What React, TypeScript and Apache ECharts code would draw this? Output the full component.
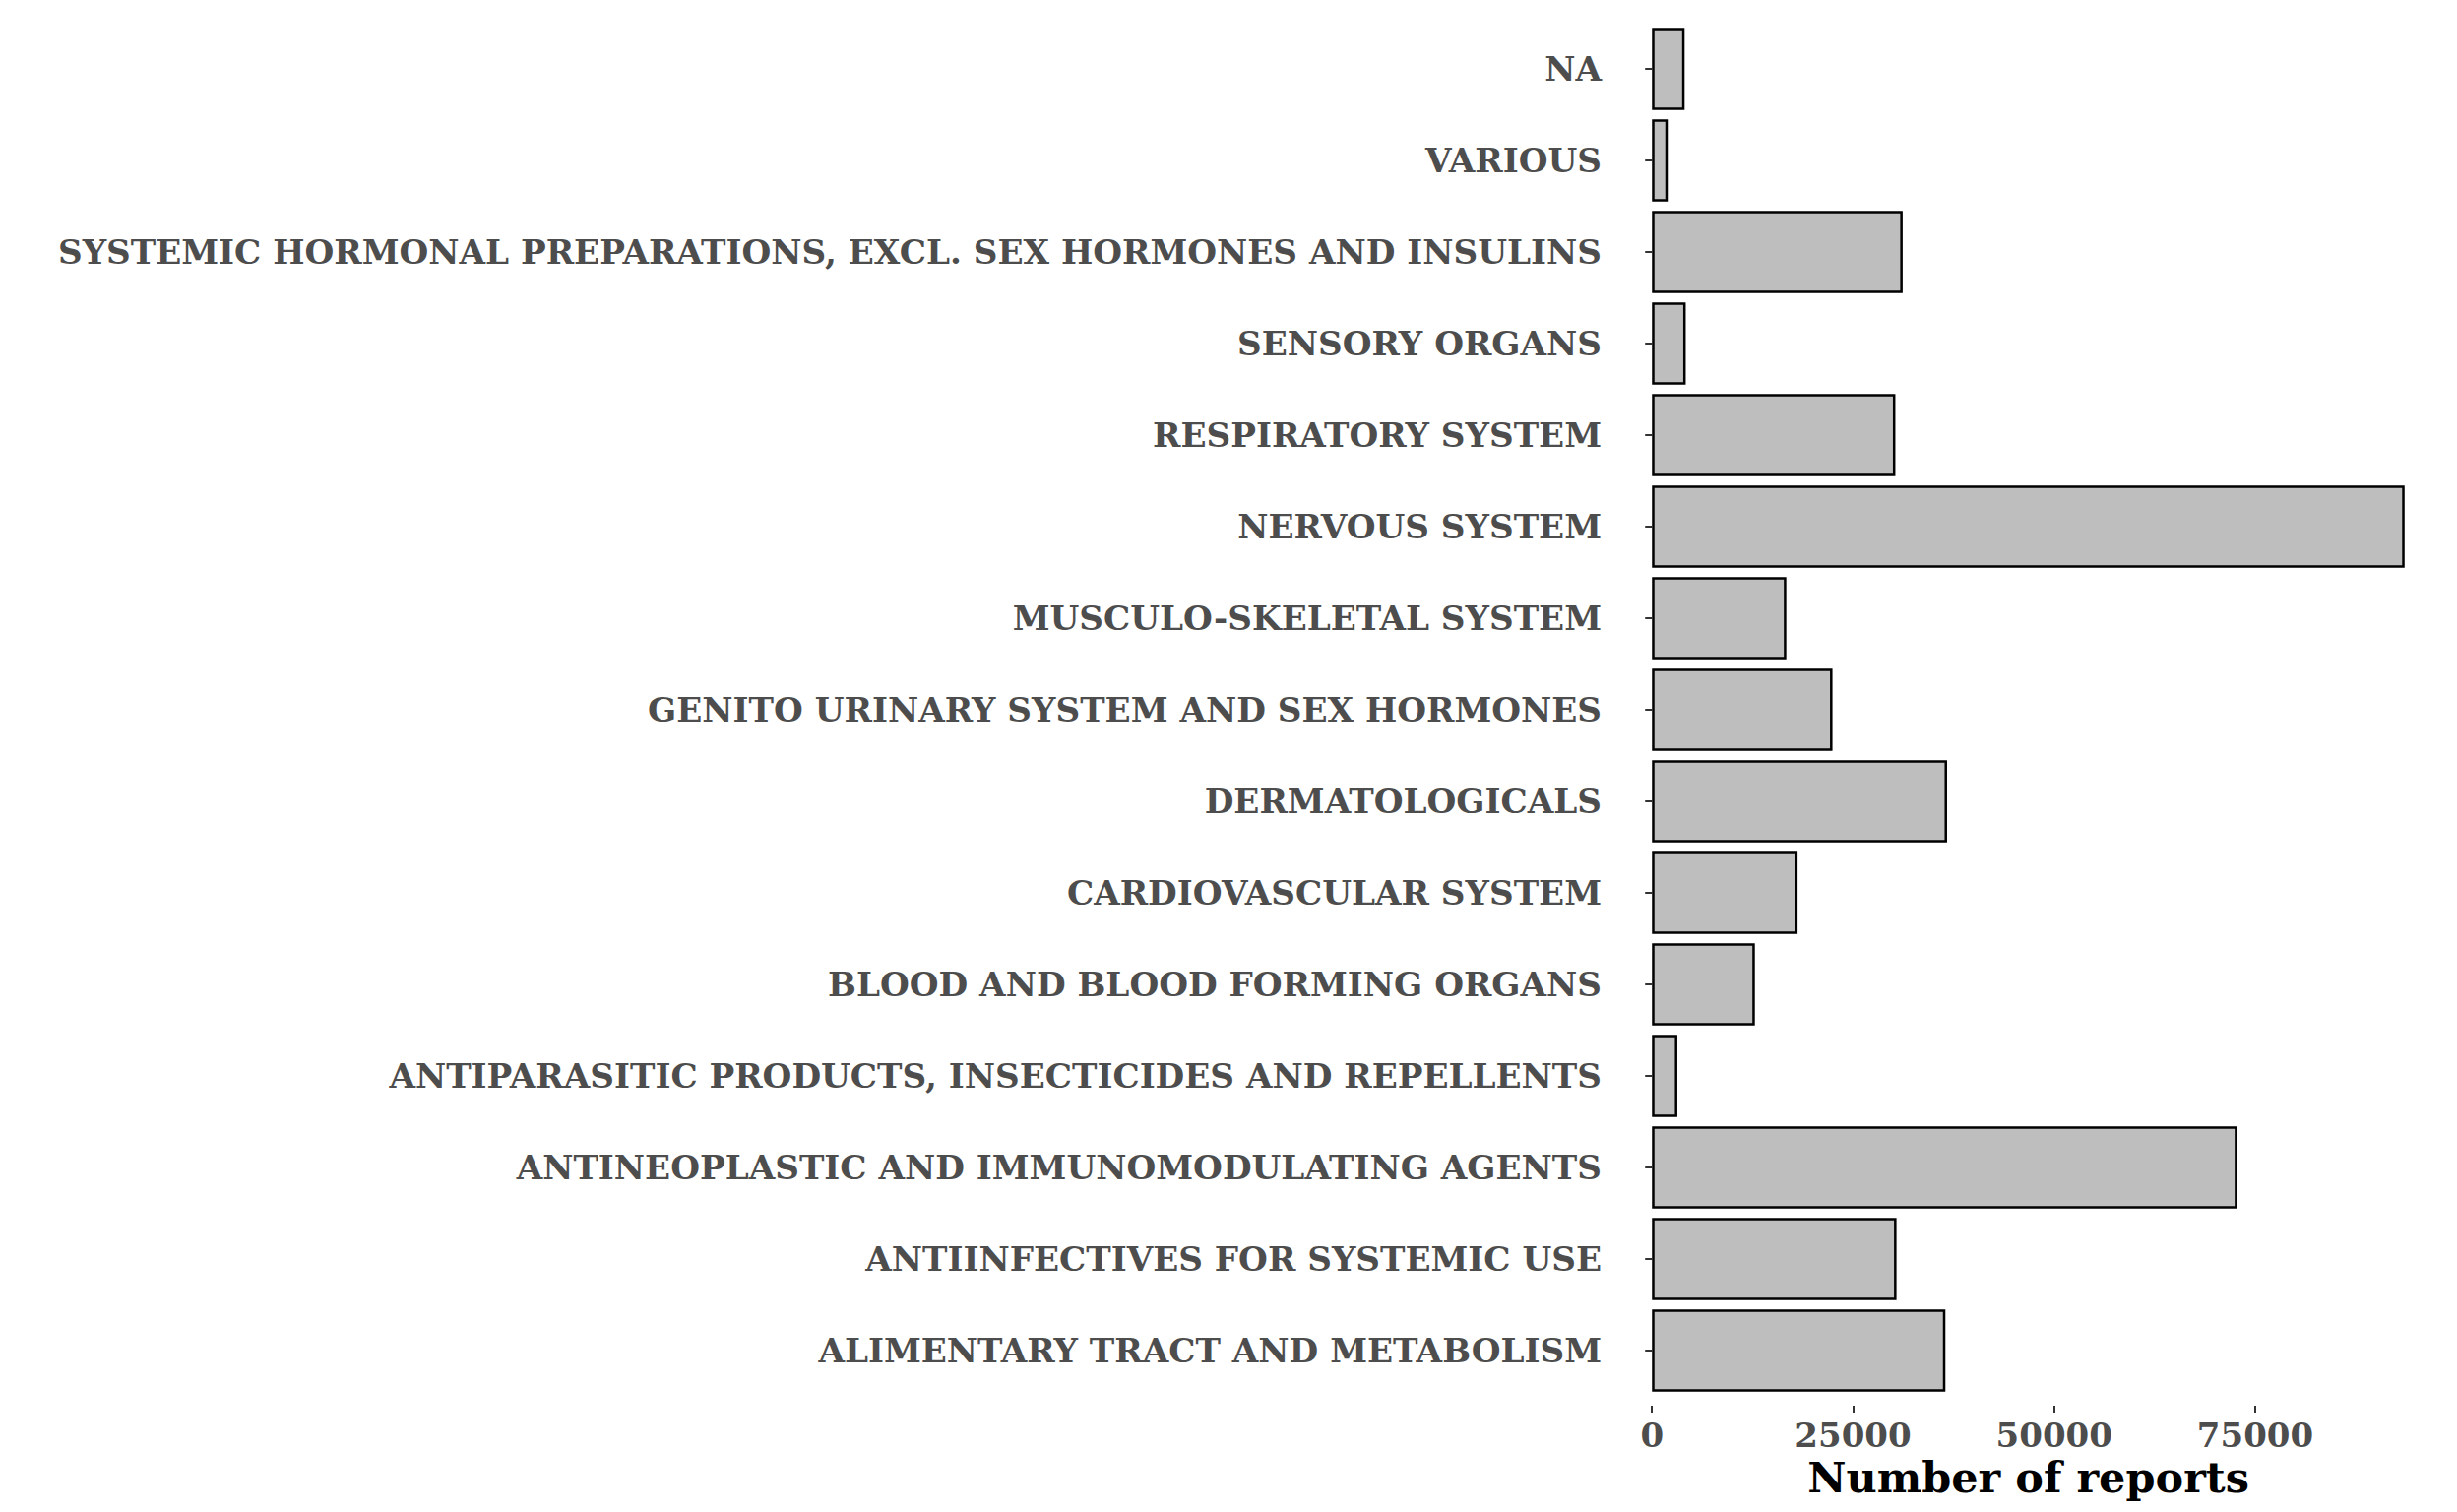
import React, { useEffect, useRef } from "react";
import * as echarts from "echarts";

const categories: string[] = [
  "ALIMENTARY TRACT AND METABOLISM",
  "ANTIINFECTIVES FOR SYSTEMIC USE",
  "ANTINEOPLASTIC AND IMMUNOMODULATING AGENTS",
  "ANTIPARASITIC PRODUCTS, INSECTICIDES AND REPELLENTS",
  "BLOOD AND BLOOD FORMING ORGANS",
  "CARDIOVASCULAR SYSTEM",
  "DERMATOLOGICALS",
  "GENITO URINARY SYSTEM AND SEX HORMONES",
  "MUSCULO-SKELETAL SYSTEM",
  "NERVOUS SYSTEM",
  "RESPIRATORY SYSTEM",
  "SENSORY ORGANS",
  "SYSTEMIC HORMONAL PREPARATIONS, EXCL. SEX HORMONES AND INSULINS",
  "VARIOUS",
  "NA",
];

const reports: number[] = [
  36480, 30400, 72760, 3150, 12790, 18100, 36690, 22440, 16700, 93580, 30260,
  4190, 31170, 1960, 4050,
];

const xTicks: number[] = [0, 25000, 50000, 75000];
const xTitle = "Number of reports";

const FONT = "DejaVu Serif";

export default function App() {
  const ref = useRef<HTMLDivElement>(null);
  useEffect(() => {
    if (!ref.current) return;
    const chart = echarts.init(ref.current, null, { renderer: "svg" });
    const maxV = Math.max(...reports);
    const pad = maxV * 0.05;
    chart.setOption({
      animation: false,
      backgroundColor: "#FFFFFF",
      grid: { left: 1640, right: 15, top: 23.5, bottom: 1536 - 1418.5, containLabel: false },
      xAxis: {
        type: "value",
        min: -pad,
        max: maxV + pad,
        offset: 9.5,
        splitLine: { show: false },
        axisLine: { show: false },
        axisTick: { show: true, length: 7, lineStyle: { color: "#333333", width: 2 }, customValues: xTicks },
        axisLabel: {
          customValues: xTicks,
          formatter: (v: number) => String(Math.round(v)),
          color: "#4D4D4D",
          fontFamily: FONT,
          fontWeight: "bold",
          fontSize: 34,
          margin: 13,
        },
        name: xTitle,
        nameLocation: "middle",
        nameGap: 41,
        nameTextStyle: { color: "#000000", fontFamily: FONT, fontWeight: "bold", fontSize: 43 },
      },
      yAxis: {
        type: "category",
        data: categories,
        axisLine: { show: false },
        axisTick: { show: true, length: 7, alignWithLabel: true, lineStyle: { color: "#333333", width: 2 } },
        axisLabel: {
          color: "#4D4D4D",
          fontFamily: FONT,
          fontWeight: "bold",
          fontSize: 34.2,
          margin: 13,
          interval: 0,
        },
        splitLine: { show: false },
      },
      series: [
        {
          type: "bar",
          data: reports,
          barCategoryGap: "10%",
          itemStyle: { color: "#BEBEBE", borderColor: "#000000", borderWidth: 2.5 },
        },
      ],
    });
    return () => chart.dispose();
  }, []);
  return (
    <div
      ref={ref}
      style={{ position: "fixed", left: 0, top: 0, width: 2496, height: 1536, background: "#FFFFFF" }}
    />
  );
}
